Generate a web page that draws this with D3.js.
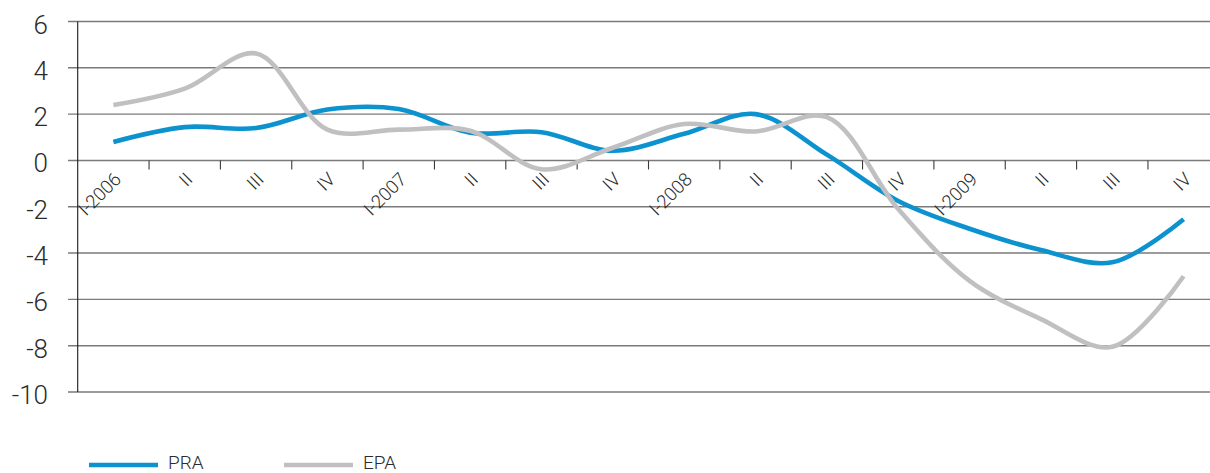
<!DOCTYPE html>
<html>
<head>
<meta charset="utf-8">
<script src="https://cdn.jsdelivr.net/npm/d3@7"></script>
<style>
  html, body { margin: 0; padding: 0; background: #ffffff; }
  svg { display: block; font-family: Roboto, "Liberation Sans", Arial, sans-serif; font-weight: 300; }
</style>
</head>
<body>
<svg id="chart" width="1210" height="473"></svg>
<script>
const categories = ["I-2006","II","III","IV","I-2007","II","III","IV","I-2008","II","III","IV","I-2009","II","III","IV"];
const praValues = [0.80, 1.44, 1.40, 2.20, 2.22, 1.20, 1.22, 0.42, 1.15, 2.00, 0.25, -1.75, -2.95, -3.87, -4.40, -2.54];
const epaValues = [2.39, 3.10, 4.62, 1.33, 1.33, 1.28, -0.38, 0.55, 1.57, 1.25, 1.87, -2.10, -5.20, -6.85, -8.05, -5.00];
const yTicks = [-10, -8, -6, -4, -2, 0, 2, 4, 6];
const seriesNames = ["PRA", "EPA"];
const seriesColors = ["#0c93cf", "#c0c0c2"];

const W = 1210, H = 473;
const svg = d3.select("#chart");

const idx = d3.range(categories.length);
const x = d3.scaleBand().domain(idx).range([77.7, 77.7 + 16 * 71.35]).paddingInner(0).paddingOuter(0);
const bw = x.bandwidth();
const y = d3.scaleLinear().domain([-10, 6]).range([392, 21.5]);

// gridlines
const grid = svg.append("g");
grid.selectAll("line").data(yTicks).join("line")
  .attr("x1", 68).attr("x2", W)
  .attr("y1", d => y(d)).attr("y2", d => y(d))
  .attr("stroke", "#7a7a7a").attr("stroke-width", 1.4);

// y axis line
svg.append("line")
  .attr("x1", x.range()[0]).attr("x2", x.range()[0])
  .attr("y1", y(6)).attr("y2", y(-10))
  .attr("stroke", "#1a1a1a").attr("stroke-width", 1.1);

// y labels
svg.append("g").selectAll("text").data(yTicks).join("text")
  .attr("x", 48).attr("y", d => y(d) + 3)
  .attr("text-anchor", "end").attr("dominant-baseline", "central")
  .attr("font-size", 26).attr("fill", "#2b2b2b")
  .text(d => d);

// x ticks at band boundaries
svg.append("g").selectAll("line").data(idx.slice(1)).join("line")
  .attr("x1", d => x(d)).attr("x2", d => x(d))
  .attr("y1", y(0)).attr("y2", y(0) + 9)
  .attr("stroke", "#3a3a3a").attr("stroke-width", 1.1);

// x labels
svg.append("g").selectAll("text").data(idx).join("text")
  .attr("transform", d => `translate(${x(d) + bw / 2 + 9},${y(0) + 20}) rotate(-45)`)
  .attr("text-anchor", "end")
  .attr("font-size", 18.5).attr("fill", "#2b2b2b")
  .text(d => categories[d]);

// lines
const line = d3.line()
  .x((d, i) => x(i) + bw / 2)
  .y(d => y(d))
  .curve(d3.curveCatmullRom.alpha(0.5));

[praValues, epaValues].forEach((vals, k) => {
  svg.append("path")
    .datum(vals)
    .attr("d", line)
    .attr("fill", "none")
    .attr("stroke", seriesColors[k])
    .attr("stroke-width", 4.6)
    .attr("stroke-linejoin", "round");
});

// legend
const legendX = [89, 284];
const lg = svg.append("g");
seriesNames.forEach((name, k) => {
  lg.append("line")
    .attr("x1", legendX[k]).attr("x2", legendX[k] + 69)
    .attr("y1", 465).attr("y2", 465)
    .attr("stroke", seriesColors[k]).attr("stroke-width", 4.6);
  lg.append("text")
    .attr("x", legendX[k] + 79).attr("y", 469)
    .attr("font-size", 19).attr("fill", "#2b2b2b")
    .text(name);
});
</script>
</body>
</html>
